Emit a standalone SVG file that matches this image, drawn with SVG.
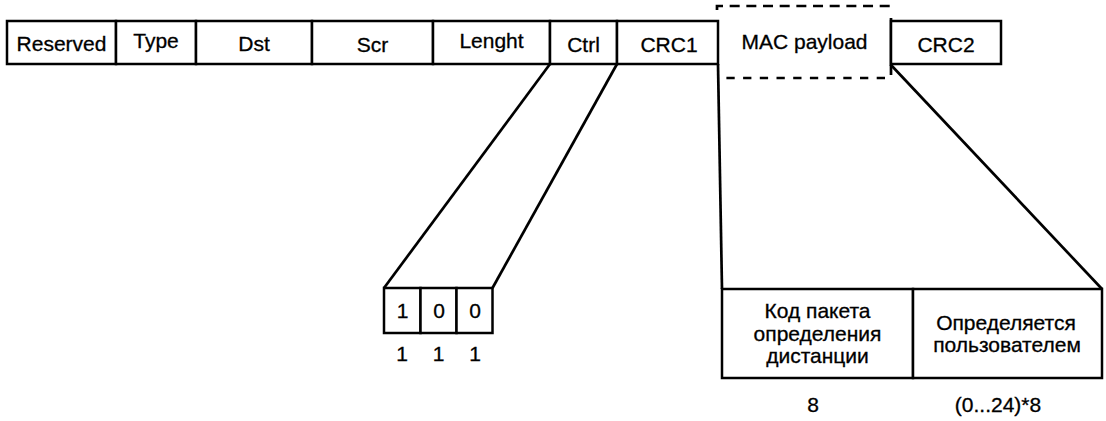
<svg xmlns="http://www.w3.org/2000/svg" width="1106" height="421" viewBox="0 0 1106 421">
<style>
.c{fill:#fff;stroke:#000;stroke-width:2.5}
.t{font-family:"Liberation Sans",Arial,sans-serif;font-size:21px;fill:#000;stroke:#000;stroke-width:0.3;text-anchor:middle}
.l{fill:none;stroke:#000;stroke-width:2.7}
.d{fill:none;stroke:#000;stroke-width:2.7}
</style>
<rect width="1106" height="421" fill="#fff"/>
<g id="connectors">
<path class="l" d="M550,64 L384,288"/>
<path class="l" d="M617,64 L492.5,288"/>
<path class="l" d="M718,64 L722,289"/>
<path class="l" d="M891,65 L1102,289"/>
</g>
<g id="reserved"><rect class="c" x="7" y="21" width="109" height="43"/><text class="t" x="61.5" y="51">Reserved</text></g>
<g id="type"><rect class="c" x="116" y="21" width="80" height="43"/><text class="t" x="156" y="47.5">Type</text></g>
<g id="dst"><rect class="c" x="196" y="21" width="116" height="43"/><text class="t" x="254" y="51">Dst</text></g>
<g id="scr"><rect class="c" x="312" y="21" width="121" height="43"/><text class="t" x="372.5" y="51.5">Scr</text></g>
<g id="lenght"><rect class="c" x="433" y="21" width="117" height="43"/><text class="t" x="491.5" y="48.3">Lenght</text></g>
<g id="ctrl"><rect class="c" x="550" y="21" width="67" height="43"/><text class="t" x="583.5" y="51.5">Ctrl</text></g>
<g id="crc1"><rect class="c" x="617" y="21" width="101" height="43"/><text class="t" x="669" y="51.5">CRC1</text></g>
<g id="mac-payload">
<path class="d" d="M717,10 V6 H892" stroke-dasharray="10 6.67"/>
<path class="d" d="M891,65 V75"/>
<path class="d" d="M885,78 H726" stroke-dasharray="8.3 8.4"/>
<path class="l" d="M891,18 V66"/>
<text class="t" x="804.5" y="49.3">MAC payload</text>
</g>
<g id="crc2"><rect class="c" x="891" y="21" width="110" height="43"/><text class="t" x="946" y="51.5">CRC2</text></g>
<g id="ctrl-bits">
<rect class="c" x="384" y="288" width="36.5" height="45"/>
<rect class="c" x="420.5" y="288" width="36" height="45"/>
<rect class="c" x="456.5" y="288" width="36" height="45"/>
<text class="t" x="402.5" y="318.3">1</text>
<text class="t" x="439" y="318.3">0</text>
<text class="t" x="475" y="318.3">0</text>
<text class="t" x="402" y="360.7">1</text>
<text class="t" x="438.5" y="360.7">1</text>
<text class="t" x="475" y="360.7">1</text>
</g>
<g id="payload-code">
<rect class="c" x="722" y="289" width="191" height="89"/>
<text class="t" x="817.5" y="318.3">Код пакета</text>
<text class="t" x="817.5" y="340.5">определения</text>
<text class="t" x="817.5" y="363">дистанции</text>
<text class="t" x="813" y="412">8</text>
</g>
<g id="payload-user">
<rect class="c" x="913" y="289" width="189" height="89"/>
<text class="t" x="1006" y="329.5">Определяется</text>
<text class="t" x="1007" y="352">пользователем</text>
<text class="t" x="998" y="412">(0...24)*8</text>
</g>
</svg>
